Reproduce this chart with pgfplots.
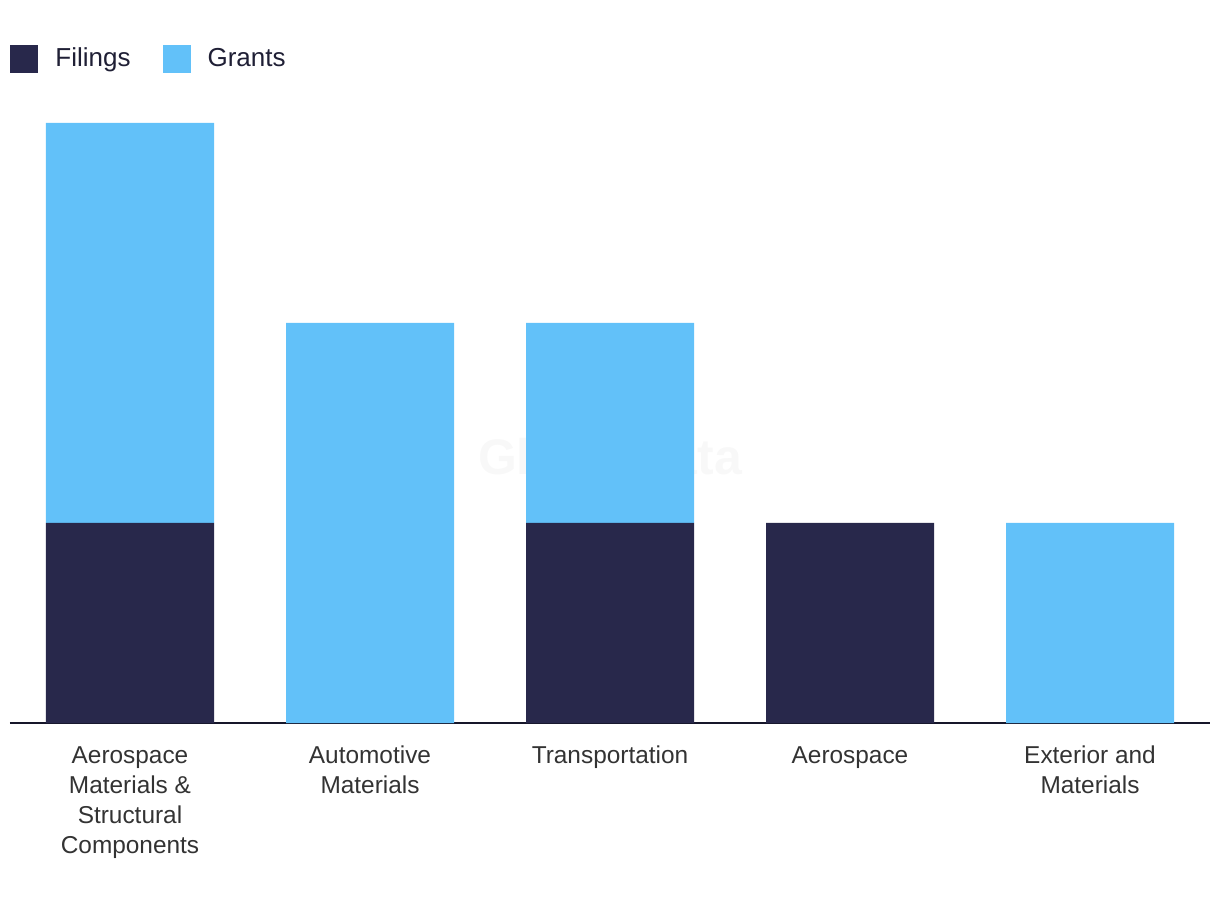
\documentclass[border=0pt]{standalone}
\usepackage{pgfplots}
\pgfplotsset{compat=1.18}
\usepackage{fontspec}
\setmainfont{Liberation Sans}
\definecolor{navy}{HTML}{28284B}
\definecolor{sky}{HTML}{62C1F9}
\definecolor{axisc}{HTML}{16162A}
\definecolor{labc}{HTML}{333333}
\definecolor{legc}{HTML}{1F1F35}
\begin{document}
\begin{tikzpicture}
\useasboundingbox (0,0) rectangle (610pt,455pt);
\begin{axis}[
  at={(5pt,93.5pt)}, anchor=south west,
  scale only axis, width=600pt, height=300pt,
  xmin=-0.5, xmax=4.5, ymin=0, ymax=3,
  ybar stacked, bar width=84pt,
  axis x line*=bottom, axis y line=none,
  x axis line style={color=axisc, line width=1pt},
  xtick=data, major tick length=0pt,
  xticklabels={{\strut Aerospace\\Materials \&\\Structural\\Components},{\strut Automotive\\Materials},{\strut Transportation},{\strut Aerospace},{\strut Exterior and\\Materials}},
  xticklabel style={align=center, font=\fontsize{12.2pt}{15pt}\selectfont, text=labc, inner sep=0pt, yshift=-9.5pt},
  legend columns=2,
  legend style={draw=none, fill=none, at={(0,1)}, anchor=west, yshift=32pt, inner sep=0pt,
    font=\fontsize{13pt}{15pt}\selectfont, text=legc,
    nodes={inner sep=0pt},
    /tikz/every odd column/.append style={column sep=8.5pt},
    /tikz/every even column/.append style={column sep=16pt}},
  legend image code/.code={\fill[#1] (0pt,-7pt) rectangle (14pt,7pt);},
  clip=false,
]
\addplot[fill=navy, draw=none] coordinates {(0,1) (1,0) (2,1) (3,1) (4,0)};
\addplot[fill=sky, draw=none] coordinates {(0,2) (1,2) (2,1) (3,0) (4,1)};
\legend{Filings, Grants}
\node[font=\bfseries\fontsize{25pt}{30pt}\selectfont, text=black!18, text opacity=0.15] at (axis cs:2,1.33) {GlobalData};
\end{axis}
\end{tikzpicture}
\end{document}
